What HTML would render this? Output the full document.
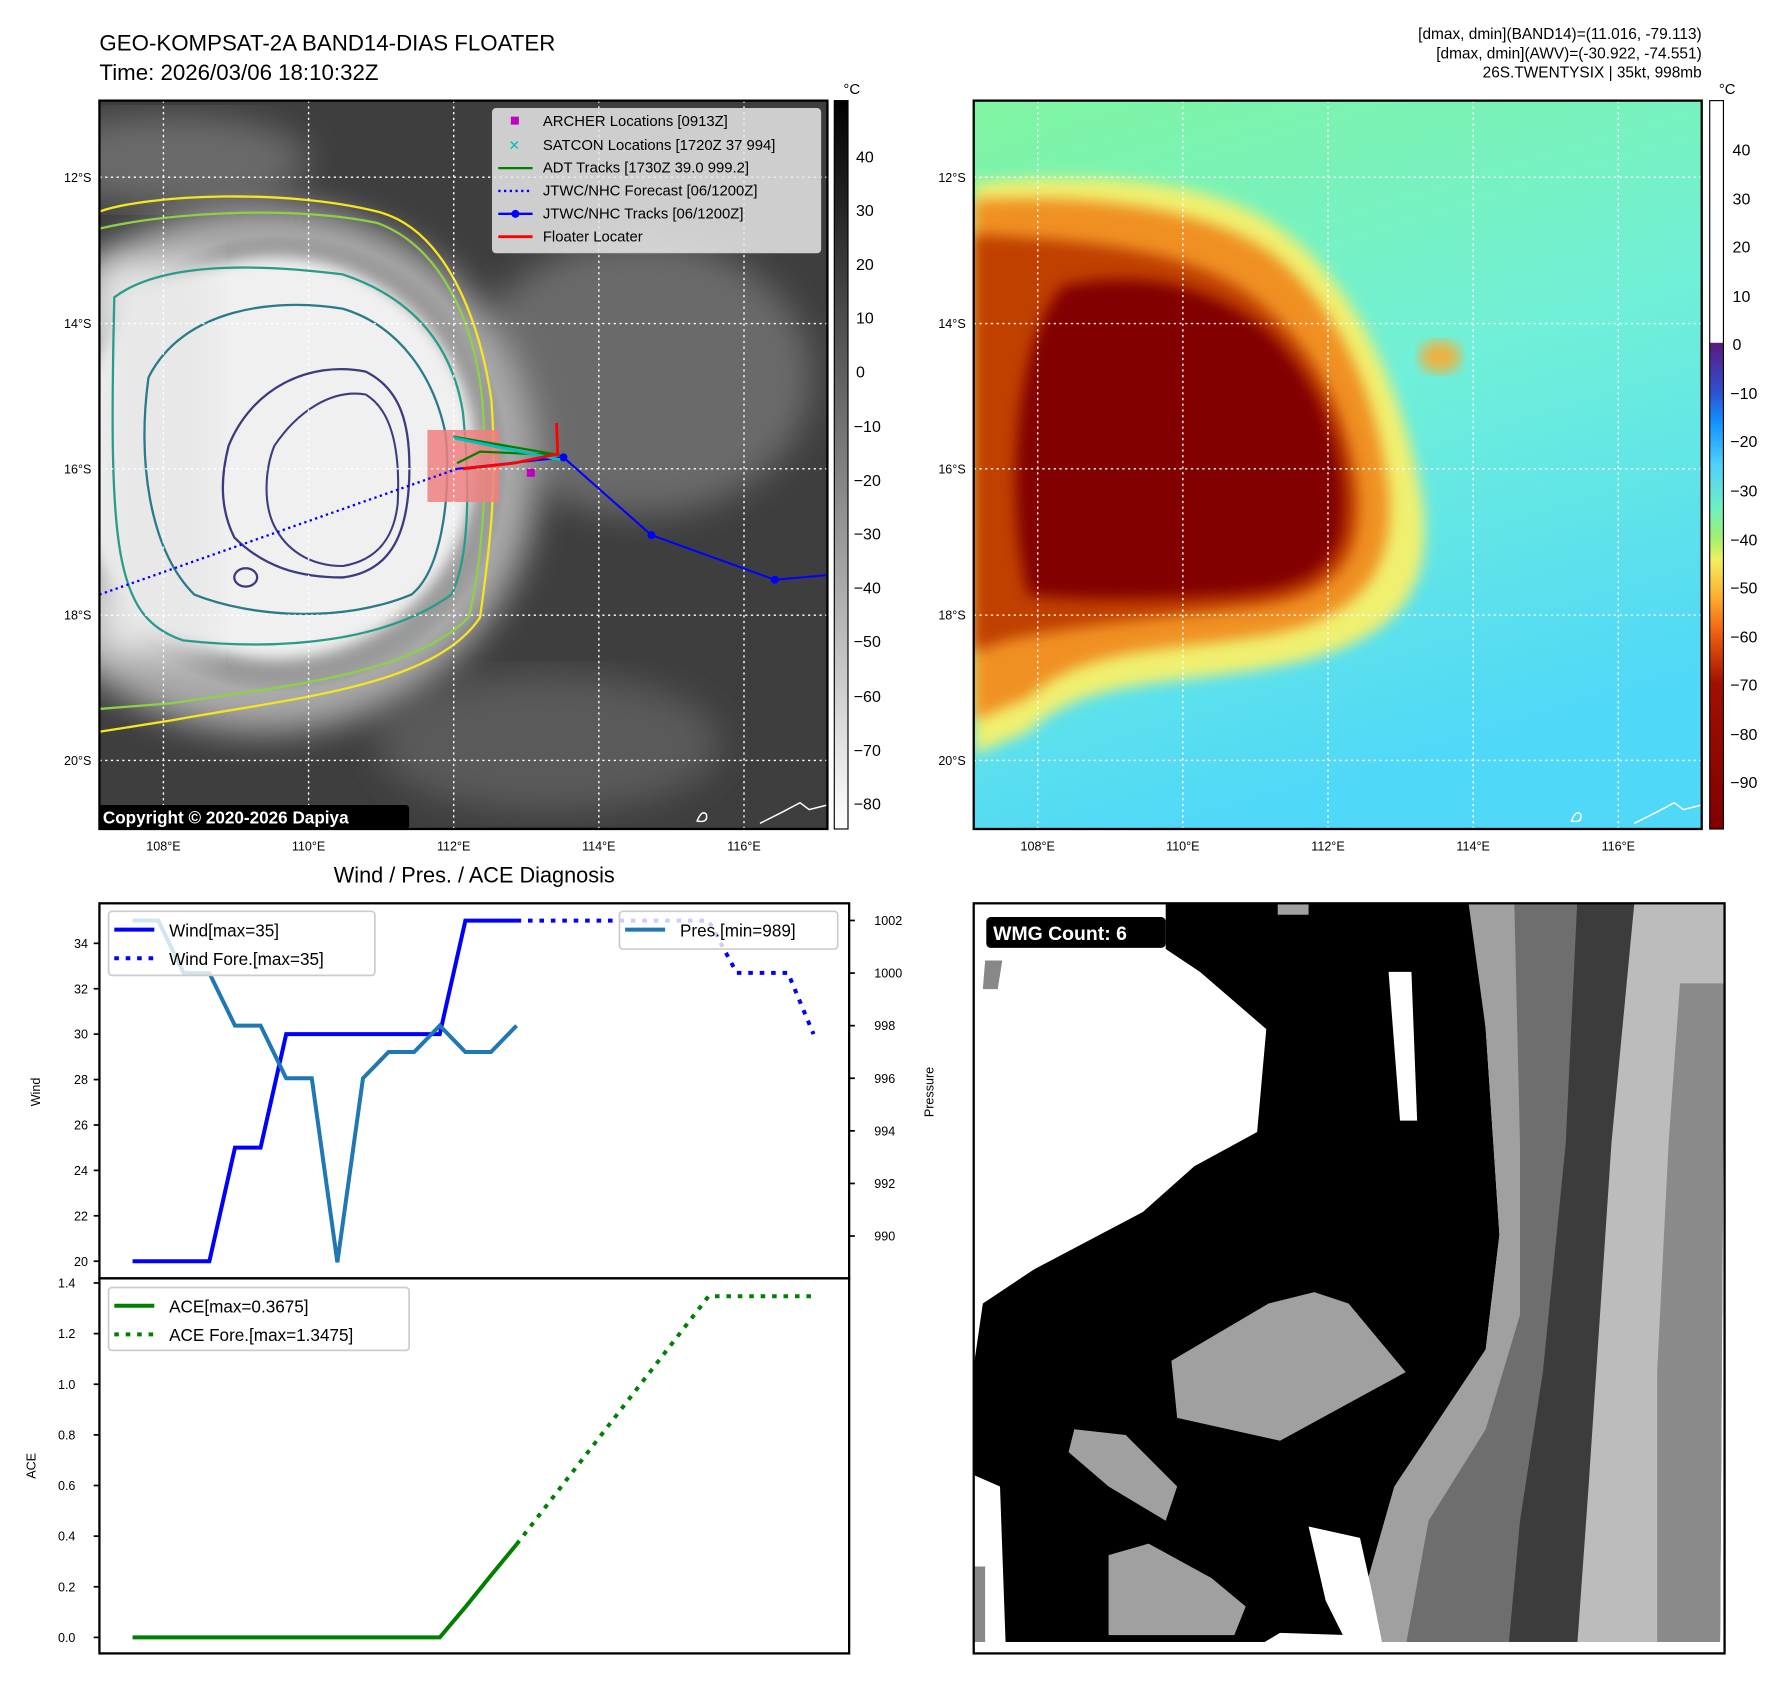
<!DOCTYPE html>
<html><head><meta charset="utf-8">
<style>
html,body{margin:0;padding:0;background:#fff;}
svg{display:block;font-family:"Liberation Sans","DejaVu Sans",sans-serif;}
</style></head>
<body>
<svg id="root" width="1792" height="1690" viewBox="0 0 1568 1478" preserveAspectRatio="none" xmlns="http://www.w3.org/2000/svg">
<defs>
<radialGradient id="cloud" cx="0.5" cy="0.5" r="0.5">
<stop offset="0" stop-color="#ffffff"/><stop offset="0.55" stop-color="#f4f4f4"/><stop offset="0.8" stop-color="#c8c8c8"/><stop offset="1" stop-color="#555" stop-opacity="0"/>
</radialGradient>
<linearGradient id="grayBar" x1="0" y1="0" x2="0" y2="1"><stop offset="0" stop-color="#000"/><stop offset="1" stop-color="#fff"/></linearGradient>
<linearGradient id="jetBar" x1="0" y1="0" x2="0" y2="1">
<stop offset="0" stop-color="#fff"/><stop offset="0.332" stop-color="#fff"/><stop offset="0.333" stop-color="#5a1a80"/>
<stop offset="0.4" stop-color="#3050d0"/><stop offset="0.44" stop-color="#1090ff"/><stop offset="0.5" stop-color="#50d0ff"/>
<stop offset="0.56" stop-color="#70f0c0"/><stop offset="0.6" stop-color="#a0f070"/><stop offset="0.63" stop-color="#f0f060"/>
<stop offset="0.68" stop-color="#ffb030"/><stop offset="0.73" stop-color="#f06010"/><stop offset="0.8" stop-color="#a01000"/><stop offset="1" stop-color="#800000"/>
</linearGradient>
<linearGradient id="rbg" x1="0" y1="0" x2="0.3" y2="1"><stop offset="0" stop-color="#80f4a0"/><stop offset="0.5" stop-color="#70f0d8"/><stop offset="1" stop-color="#50d8f8"/></linearGradient>
<filter id="blur6"><feGaussianBlur stdDeviation="6"/></filter>
<filter id="blur15"><feGaussianBlur stdDeviation="15"/></filter>
<clipPath id="clipL"><rect x="87" y="88" width="637" height="637"/></clipPath>
<clipPath id="clipR"><rect x="852" y="88" width="637" height="637"/></clipPath>
<clipPath id="clipB"><rect x="852" y="790" width="657" height="656"/></clipPath>
</defs>

<text x="87" y="44" font-size="19.5">GEO-KOMPSAT-2A BAND14-DIAS FLOATER</text>
<text x="87" y="70" font-size="19.5">Time: 2026/03/06 18:10:32Z</text>
<g font-size="13.5" text-anchor="end">
<text x="1489" y="34">[dmax, dmin](BAND14)=(11.016, -79.113)</text>
<text x="1489" y="51">[dmax, dmin](AWV)=(-30.922, -74.551)</text>
<text x="1489" y="68">26S.TWENTYSIX | 35kt, 998mb</text>
</g>

<!-- LEFT MAP -->
<g clip-path="url(#clipL)">
<rect x="87" y="88" width="637" height="637" fill="#3e3e3e"/>
<ellipse cx="560" cy="330" rx="150" ry="120" fill="#6a6a6a" filter="url(#blur15)"/>
<ellipse cx="480" cy="650" rx="150" ry="60" fill="#5a5a5a" filter="url(#blur15)"/>
<ellipse cx="150" cy="140" rx="120" ry="40" fill="#6a6a6a" filter="url(#blur15)"/>
<ellipse cx="230" cy="410" rx="240" ry="230" fill="#aaa" filter="url(#blur15)"/>
<ellipse cx="245" cy="405" rx="200" ry="200" fill="url(#cloud)"/>
<ellipse cx="240" cy="400" rx="175" ry="175" fill="#f0f0f0" filter="url(#blur6)"/>
<rect x="87" y="230" width="100" height="340" fill="#e8e8e8" filter="url(#blur15)"/>
<path d="M87,185 C130,170 250,165 330,185 C390,200 420,280 430,350 C435,420 430,470 420,540 C380,600 260,610 150,630 L87,640" fill="none" stroke="#f5e61e" stroke-width="2"/>
<path d="M87,200 C150,185 260,180 330,195 C385,215 415,280 422,350 C428,430 420,500 410,540 C360,590 250,600 150,615 L87,620" fill="none" stroke="#8ed046" stroke-width="2"/>
<path d="M100,260 C140,230 220,230 300,240 C360,260 395,300 405,360 C412,430 410,490 395,520 C340,560 250,570 160,560 C100,540 95,480 100,260 Z" fill="none" stroke="#2a9a8a" stroke-width="2"/>
<path d="M130,330 C160,270 240,260 300,270 C350,285 380,330 390,380 C395,440 385,500 360,520 C300,545 220,540 170,520 C130,480 120,400 130,330 Z" fill="none" stroke="#2a7a8a" stroke-width="2"/>
<path d="M200,390 C220,340 270,315 320,325 C350,340 360,370 358,420 C356,470 340,500 300,505 C260,505 230,495 205,470 C190,440 195,410 200,390 Z" fill="none" stroke="#3b3b80" stroke-width="2"/>
<path d="M240,390 C260,360 290,340 320,345 C345,360 350,400 348,440 C345,470 330,490 300,495 C270,495 250,480 240,460 C230,440 232,410 240,390 Z" fill="none" stroke="#3b3b80" stroke-width="1.8"/>
<ellipse cx="215" cy="505" rx="10" ry="8" fill="none" stroke="#3b3b80" stroke-width="2"/>
<rect x="374" y="376" width="63" height="63" fill="#f08080" opacity="0.85"/>
<g stroke="#fff" stroke-width="1.2" stroke-dasharray="2,3">
<line x1="143" y1="88" x2="143" y2="725"/><line x1="270" y1="88" x2="270" y2="725"/><line x1="397" y1="88" x2="397" y2="725"/><line x1="524" y1="88" x2="524" y2="725"/><line x1="651" y1="88" x2="651" y2="725"/>
<line x1="87" y1="155" x2="724" y2="155"/><line x1="87" y1="283" x2="724" y2="283"/><line x1="87" y1="410" x2="724" y2="410"/><line x1="87" y1="538" x2="724" y2="538"/><line x1="87" y1="665" x2="724" y2="665"/>
</g>
<line x1="87" y1="520" x2="400" y2="410" stroke="#0000ff" stroke-width="2" stroke-dasharray="2,3"/>
<polyline points="400,410 493,400 570,468 678,507 724,503" fill="none" stroke="#0000ff" stroke-width="1.8"/>
<g fill="#0000ff"><circle cx="493" cy="400" r="3.5"/><circle cx="570" cy="468" r="3.5"/><circle cx="678" cy="507" r="3.5"/></g>
<polyline points="397,382 490,398 420,395 400,405" fill="none" stroke="#008000" stroke-width="2"/>
<polyline points="397,383 490,402" fill="none" stroke="#00c0c0" stroke-width="2.5"/>
<polyline points="405,410 450,405 488,397 487,370" fill="none" stroke="#ff0000" stroke-width="2.5"/>
<rect x="461" y="410" width="7" height="7" fill="#c000c0"/>
<path d="M610,718 q4,-10 8,-6 q2,8 -8,6z M665,720 l20,-10 l15,-8 l8,6 l16,-4" fill="none" stroke="#fff" stroke-width="1.3"/>
<rect x="84" y="704" width="274" height="21" rx="3" fill="#000"/>
<text x="90" y="720" font-size="15" font-weight="bold" fill="#fff">Copyright © 2020-2026 Dapiya</text>
</g>
<rect x="87" y="88" width="637" height="637" fill="none" stroke="#000" stroke-width="2"/>
<g font-size="13">
<rect x="431" y="95" width="287" height="126" rx="3" fill="#e8e8e8" fill-opacity="0.85" stroke="#ccc"/>
<rect x="447" y="102" width="7" height="7" fill="#c000c0"/><text x="475" y="110">ARCHER Locations [0913Z]</text>
<text x="445" y="131" fill="#00c0c0" font-size="12" font-weight="bold">✕</text><text x="475" y="131">SATCON Locations [1720Z 37 994]</text>
<line x1="436" y1="147" x2="466" y2="147" stroke="#008000" stroke-width="2"/><text x="475" y="151">ADT Tracks [1730Z 39.0 999.2]</text>
<line x1="436" y1="167" x2="466" y2="167" stroke="#0000ff" stroke-width="2" stroke-dasharray="2,3"/><text x="475" y="171">JTWC/NHC Forecast [06/1200Z]</text>
<line x1="436" y1="187" x2="466" y2="187" stroke="#0000ff" stroke-width="2"/><circle cx="451" cy="187" r="3.5" fill="#0000ff"/><text x="475" y="191">JTWC/NHC Tracks [06/1200Z]</text>
<line x1="436" y1="207" x2="466" y2="207" stroke="#ff0000" stroke-width="2.5"/><text x="475" y="211">Floater Locater</text>
</g>
<g font-size="11" fill="#000">
<g text-anchor="end"><text x="80" y="159">12°S</text><text x="80" y="287">14°S</text><text x="80" y="414">16°S</text><text x="80" y="542">18°S</text><text x="80" y="669">20°S</text></g>
<g text-anchor="middle"><text x="143" y="744">108°E</text><text x="270" y="744">110°E</text><text x="397" y="744">112°E</text><text x="524" y="744">114°E</text><text x="651" y="744">116°E</text></g>
</g>
<rect x="730" y="88" width="12" height="637" fill="url(#grayBar)" stroke="#000" stroke-width="1"/>
<text x="738" y="82" font-size="13">°C</text>
<g font-size="14">
<text x="749" y="142">40</text><text x="749" y="189">30</text><text x="749" y="236">20</text><text x="749" y="283">10</text><text x="749" y="330">0</text>
<text x="747" y="378">−10</text><text x="747" y="425">−20</text><text x="747" y="472">−30</text><text x="747" y="519">−40</text><text x="747" y="566">−50</text><text x="747" y="614">−60</text><text x="747" y="661">−70</text><text x="747" y="708">−80</text>
</g>

<!-- RIGHT MAP -->
<g clip-path="url(#clipR)">
<rect x="852" y="88" width="637" height="637" fill="url(#rbg)"/>
<path d="M852,160 C950,150 1060,155 1120,200 C1190,250 1230,350 1245,440 C1255,520 1220,560 1130,580 C1040,600 950,590 900,640 L852,660 Z" fill="#f0f070" filter="url(#blur6)"/>
<path d="M852,175 C950,170 1050,180 1110,220 C1175,270 1205,350 1215,430 C1220,500 1190,540 1110,555 C1020,570 950,565 900,610 L852,630 Z" fill="#f09020" filter="url(#blur6)"/>
<path d="M852,205 C940,210 1030,215 1090,255 C1150,300 1180,360 1188,430 C1192,490 1170,520 1100,530 C1020,540 950,545 880,560 L852,570 Z" fill="#c04000" filter="url(#blur6)"/>
<path d="M930,250 C1000,235 1060,250 1110,290 C1160,340 1178,400 1176,450 C1173,500 1140,515 1080,520 C1000,525 940,525 900,520 C880,450 885,300 930,250 Z" fill="#820000" filter="url(#blur6)"/>
<ellipse cx="1260" cy="312" rx="18" ry="14" fill="#f0b040" filter="url(#blur6)"/>
<g stroke="#fff" stroke-width="1.2" stroke-dasharray="2,3">
<line x1="908" y1="88" x2="908" y2="725"/><line x1="1035" y1="88" x2="1035" y2="725"/><line x1="1162" y1="88" x2="1162" y2="725"/><line x1="1289" y1="88" x2="1289" y2="725"/><line x1="1416" y1="88" x2="1416" y2="725"/>
<line x1="852" y1="155" x2="1489" y2="155"/><line x1="852" y1="283" x2="1489" y2="283"/><line x1="852" y1="410" x2="1489" y2="410"/><line x1="852" y1="538" x2="1489" y2="538"/><line x1="852" y1="665" x2="1489" y2="665"/>
</g>
<path d="M1375,718 q4,-10 8,-6 q2,8 -8,6z M1430,720 l20,-10 l15,-8 l8,6 l16,-4" fill="none" stroke="#fff" stroke-width="1.3"/>
</g>
<rect x="852" y="88" width="637" height="637" fill="none" stroke="#000" stroke-width="2"/>
<g font-size="11">
<g text-anchor="end"><text x="845" y="159">12°S</text><text x="845" y="287">14°S</text><text x="845" y="414">16°S</text><text x="845" y="542">18°S</text><text x="845" y="669">20°S</text></g>
<g text-anchor="middle"><text x="908" y="744">108°E</text><text x="1035" y="744">110°E</text><text x="1162" y="744">112°E</text><text x="1289" y="744">114°E</text><text x="1416" y="744">116°E</text></g>
</g>
<rect x="1496" y="88" width="12" height="637" fill="url(#jetBar)" stroke="#000" stroke-width="1"/>
<text x="1504" y="82" font-size="13">°C</text>
<g font-size="14">
<text x="1516" y="136">40</text><text x="1516" y="179">30</text><text x="1516" y="221">20</text><text x="1516" y="264">10</text><text x="1516" y="306">0</text>
<text x="1514" y="349">−10</text><text x="1514" y="391">−20</text><text x="1514" y="434">−30</text><text x="1514" y="477">−40</text><text x="1514" y="519">−50</text><text x="1514" y="562">−60</text><text x="1514" y="604">−70</text><text x="1514" y="647">−80</text><text x="1514" y="689">−90</text>
</g>

<!-- BOTTOM RIGHT WMG -->
<g clip-path="url(#clipB)">
<rect x="852" y="790" width="657" height="656" fill="#fff"/>
<polygon points="1020,790 1290,790 1300,900 1312,1080 1300,1180 1230,1300 1180,1430 1120,1428 1100,1440 880,1440 875,1300 852,1290 852,1195 860,1140 905,1110 1000,1060 1045,1020 1100,990 1108,900 1050,850 1020,830" fill="#000"/>
<polygon points="1118,790 1145,790 1145,800 1118,800" fill="#a0a0a0"/>
<polygon points="1285,790 1509,790 1505,1440 1180,1440 1220,1300 1300,1180 1312,1080 1300,900" fill="#a0a0a0"/>
<polygon points="1325,790 1509,790 1505,1440 1230,1440 1250,1330 1300,1250 1330,1150 1330,1000" fill="#6e6e6e"/>
<polygon points="1380,790 1509,790 1505,1440 1320,1440 1330,1330 1350,1200 1370,1000" fill="#3c3c3c"/>
<polygon points="1430,790 1509,790 1505,1440 1380,1440 1390,1300 1400,1150 1410,1000" fill="#bcbcbc"/>
<polygon points="1470,860 1509,860 1505,1440 1450,1440 1450,1200 1460,1000" fill="#8a8a8a"/>
<polygon points="1025,1190 1110,1140 1150,1130 1180,1140 1230,1200 1120,1260 1030,1240" fill="#a0a0a0"/>
<polygon points="940,1250 985,1255 1030,1300 1020,1330 970,1300 935,1270" fill="#a0a0a0"/>
<polygon points="970,1360 1005,1350 1060,1380 1090,1405 1080,1430 970,1430" fill="#a0a0a0"/>
<polygon points="1215,850 1235,850 1240,980 1225,980" fill="#fff"/>
<polygon points="1145,1335 1190,1345 1200,1390 1210,1440 1180,1440 1160,1400" fill="#fff"/>
<polygon points="862,840 877,840 873,865 860,865" fill="#888"/>
<polygon points="852,1370 862,1370 862,1440 852,1440" fill="#888"/>
<rect x="852" y="1436" width="657" height="10" fill="#fff"/>
</g>
<rect x="852" y="790" width="657" height="656" fill="none" stroke="#000" stroke-width="2"/>
<rect x="863" y="802" width="157" height="27" rx="4" fill="#000"/>
<text x="869" y="822" font-size="17" font-weight="bold" fill="#fff">WMG Count: 6</text>

<!-- BOTTOM LEFT CHART -->
<text x="415" y="772" font-size="19" text-anchor="middle">Wind / Pres. / ACE Diagnosis</text>
<g id="chart"></g>
<rect x="87" y="790" width="656" height="328" fill="none" stroke="#000" stroke-width="2"/>
<rect x="87" y="1118" width="656" height="328" fill="none" stroke="#000" stroke-width="2"/>
<text transform="translate(35,955) rotate(-90)" font-size="11" text-anchor="middle">Wind</text>
<text transform="translate(817,955) rotate(-90)" font-size="11" text-anchor="middle">Pressure</text>
<text transform="translate(31,1282) rotate(-90)" font-size="11" text-anchor="middle">ACE</text>
</svg>
<script>
const windObs = [20,20,20,20,25,25,30,30,30,30,30,30,30,35,35,35];
const presObs = [1002,1002,1000,1000,998,998,996,996,989,996,997,997,998,997,997,998];
const aceObs = [0,0,0,0,0,0,0,0,0,0,0,0,0,0.12,0.245,0.3675];
const foreIdx = [15,22.5,23.6,25.6,26.6];
const windFore = [35,35,32.7,32.7,30];
const aceForeIdx = [15,22.5,26.6];
const aceFore = [0.3675,1.3475,1.3475];
const windTicks = [20,22,24,26,28,30,32,34];
const presTicks = [990,992,994,996,998,1000,1002];
const aceTicks = [0,0.2,0.4,0.6,0.8,1.0,1.2,1.4];
const aceTickLabels = ["0.0","0.2","0.4","0.6","0.8","1.0","1.2","1.4"];

const NS="http://www.w3.org/2000/svg";
const g=document.getElementById('chart');
const xS=i=>116+22.4*i;
const yW=v=>1103-(v-20)*19.857;
const yP=p=>1081-(p-990)*23;
const yA=a=>1432-a*221.4;
function mk(tag,attrs,parent){const e=document.createElementNS(NS,tag);for(const k in attrs)e.setAttribute(k,attrs[k]);(parent||g).appendChild(e);return e;}
function pts(xs,ys,fy){return xs.map((x,i)=>xS(x)+','+fy(ys[i])).join(' ');}
const idx=windObs.map((_,i)=>i);

let e;
e=mk('polyline',{points:pts(idx,windObs,yW),fill:'none',stroke:'#0000ff','stroke-width':3.5});


e=mk('polyline',{points:pts(foreIdx,windFore,yW),fill:'none',stroke:'#0000ff','stroke-width':3.5,'stroke-dasharray':'4,6'});


e=mk('polyline',{points:pts(idx,presObs,yP),fill:'none',stroke:'#1f77b4','stroke-width':3.5});


e=mk('polyline',{points:pts(idx,aceObs,yA),fill:'none',stroke:'#008000','stroke-width':3.5});


e=mk('polyline',{points:pts(aceForeIdx,aceFore,yA),fill:'none',stroke:'#008000','stroke-width':3.5,'stroke-dasharray':'4,6'});



windTicks.forEach(v=>{const y=yW(v);
 e=mk('line',{x1:82,y1:y,x2:87,y2:y,stroke:'#000','stroke-width':1.5});
 
 
 e=mk('text',{x:77,y:y+4,'font-size':11,'text-anchor':'end'});e.textContent=v;
 
 });
presTicks.forEach(v=>{const y=yP(v);
 e=mk('line',{x1:743,y1:y,x2:748,y2:y,stroke:'#000','stroke-width':1.5});
 
 
 e=mk('text',{x:765,y:y+4,'font-size':11});e.textContent=v;
 
 });
aceTicks.forEach((v,i)=>{const y=yA(v);
 e=mk('line',{x1:82,y1:y,x2:87,y2:y,stroke:'#000','stroke-width':1.5});
 
 
 e=mk('text',{x:66,y:y+4,'font-size':11,'text-anchor':'end'});e.textContent=aceTickLabels[i];
 
 });

function legend(x,y,w,h,items,name){
 const lg=mk('g',{});
 
 
 mk('rect',{x:x,y:y,width:w,height:h,rx:3,fill:'#fff','fill-opacity':0.8,stroke:'#ccc','stroke-width':1.5},lg);
 items.forEach((it,i)=>{const yy=y+16+i*25;
  mk('line',{x1:x+5,y1:yy,x2:x+40,y2:yy,stroke:it.c,'stroke-width':3.5,'stroke-dasharray':it.d||'none'},lg);
  const t=mk('text',{x:x+53,y:yy+6,'font-size':15},lg);t.textContent=it.t;});
}
legend(95,797,233,56,[{c:'#0000ff',t:'Wind[max=35]'},{c:'#0000ff',d:'4,6',t:'Wind Fore.[max=35]'}],'wind-legend');
legend(542,797,191,33,[{c:'#1f77b4',t:'Pres.[min=989]'}],'pressure-legend');
legend(95,1126,263,55,[{c:'#008000',t:'ACE[max=0.3675]'},{c:'#008000',d:'4,6',t:'ACE Fore.[max=1.3475]'}],'ace-legend');
</script>
</body></html>
